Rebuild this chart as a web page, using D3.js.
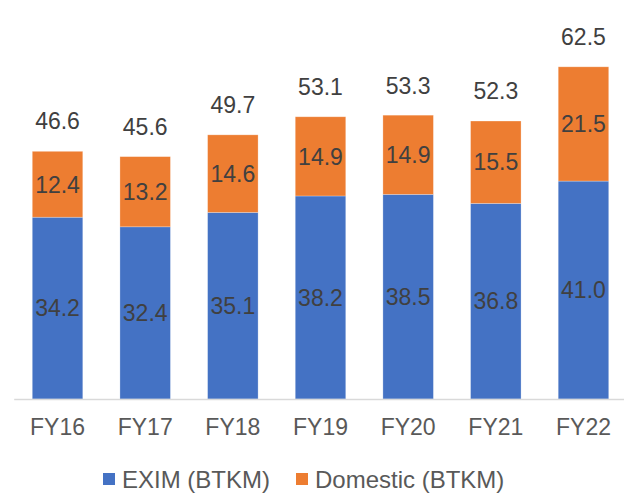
<!DOCTYPE html>
<html>
<head>
<meta charset="utf-8">
<script src="https://cdn.jsdelivr.net/npm/d3@7"></script>
<style>
  html, body { margin: 0; padding: 0; background: #fff; }
  svg { display: block; font-family: "Liberation Sans", Arial, sans-serif; }
</style>
</head>
<body>
<svg id="chart" width="624" height="493"></svg>
<script>
// Rail freight volumes by fiscal year, in billion tonne-km
const years = ["FY16", "FY17", "FY18", "FY19", "FY20", "FY21", "FY22"];
const exim = [34.2, 32.4, 35.1, 38.2, 38.5, 36.8, 41.0];
const domestic = [12.4, 13.2, 14.6, 14.9, 14.9, 15.5, 21.5];
const totals = [46.6, 45.6, 49.7, 53.1, 53.3, 52.3, 62.5];
const seriesNames = ["EXIM (BTKM)", "Domestic (BTKM)"];
const seriesColors = ["#4472C4", "#ED7D31"];

const svg = d3.select("#chart");

const x = d3.scaleBand()
  .domain(years)
  .range([13.7, 627.3])
  .paddingInner(0.424)
  .paddingOuter(0.212);

const y = d3.scaleLinear()
  .domain([0, 70])
  .range([399, 399 - 70 * 5.315]);

const rows = years.map((yr, i) => ({ year: yr, exim: exim[i], domestic: domestic[i], total: totals[i] }));
const stack = d3.stack().keys(["exim", "domestic"]);
const layers = stack(rows);

// stacked segments
const g = svg.append("g");
layers.forEach((layer, li) => {
  g.selectAll(null)
    .data(layer)
    .enter()
    .append("rect")
    .attr("x", d => x(d.data.year))
    .attr("width", x.bandwidth())
    .attr("y", d => y(d[1]))
    .attr("height", d => y(d[0]) - y(d[1]))
    .attr("fill", seriesColors[li])
    .attr("stroke", "#ffffff")
    .attr("stroke-opacity", 0.35)
    .attr("stroke-width", 0.75);

  // segment value labels
  g.selectAll(null)
    .data(layer)
    .enter()
    .append("text")
    .attr("x", d => x(d.data.year) + x.bandwidth() / 2)
    .attr("y", d => (y(d[0]) + y(d[1])) / 2)
    .attr("dy", "0.36em")
    .attr("text-anchor", "middle")
    .attr("font-size", 23)
    .attr("fill", "#404040")
    .text(d => d3.format(".1f")(d[1] - d[0]));
});

// totals above each bar
g.selectAll(null)
  .data(rows)
  .enter()
  .append("text")
  .attr("x", d => x(d.year) + x.bandwidth() / 2)
  .attr("y", d => y(d.total) - 22)
  .attr("text-anchor", "middle")
  .attr("font-size", 23)
  .attr("fill", "#404040")
  .text(d => d3.format(".1f")(d.total));

// category axis
const axis = svg.append("g")
  .attr("transform", `translate(0,${y(0)})`)
  .call(d3.axisBottom(x).tickSize(0).tickPadding(20));
axis.select(".domain").attr("stroke", "#d9d9d9").attr("stroke-width", 1.5);
axis.selectAll("text")
  .attr("font-size", 23)
  .attr("font-family", "Liberation Sans, Arial, sans-serif")
  .attr("fill", "#595959");

// legend
const legendX = [103, 296];
const legend = svg.append("g");
seriesNames.forEach((name, i) => {
  legend.append("rect")
    .attr("x", legendX[i])
    .attr("y", 473)
    .attr("width", 12)
    .attr("height", 12)
    .attr("fill", seriesColors[i]);
  legend.append("text")
    .attr("x", legendX[i] + 19)
    .attr("y", 479)
    .attr("dy", "0.36em")
    .attr("font-size", 24)
    .attr("fill", "#595959")
    .text(name);
});
</script>
</body>
</html>
